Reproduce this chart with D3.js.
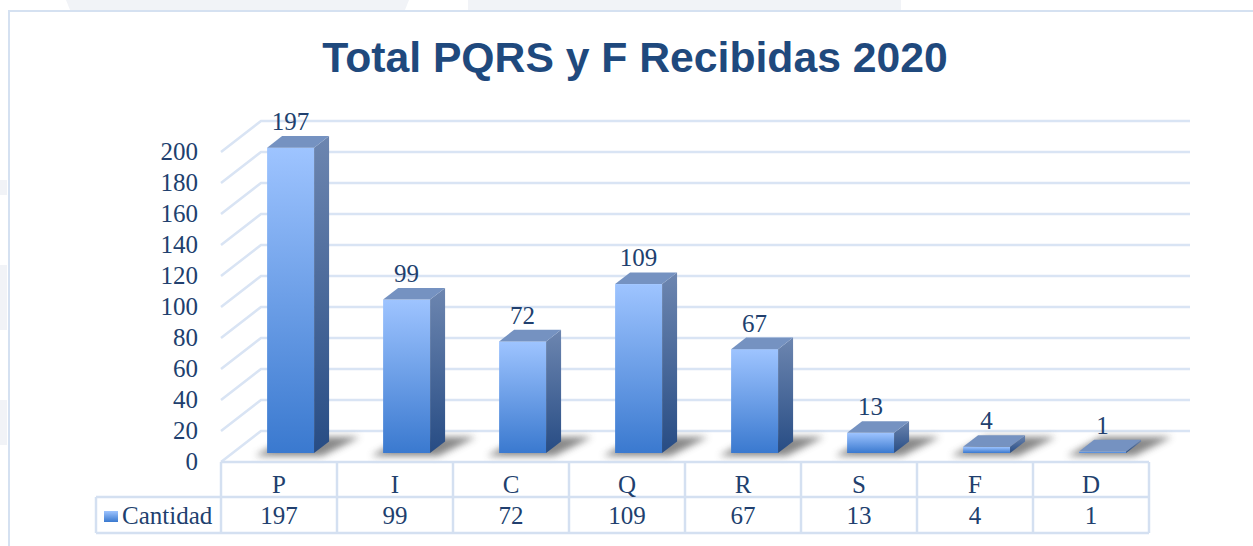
<!DOCTYPE html>
<html><head><meta charset="utf-8">
<script src="https://cdnjs.cloudflare.com/ajax/libs/d3/7.8.5/d3.min.js"></script>
<style>html,body{margin:0;padding:0;background:#fff;}svg{display:block;}</style>
</head><body>
<script>
const categories = ["P","I","C","Q","R","S","F","D"];
const values = [197, 99, 72, 109, 67, 13, 4, 1];
const yTicks = [0,20,40,60,80,100,120,140,160,180,200];
const seriesName = "Cantidad";
const title = "Total PQRS y F Recibidas 2020";

const W = 1253, H = 546;
const svg = d3.select("body").append("svg").attr("width", W).attr("height", H);
const defs = svg.append("defs");

function grad(id, c0, c1){
  const g = defs.append("linearGradient").attr("id", id).attr("x1",0).attr("y1",0).attr("x2",0).attr("y2",1);
  g.append("stop").attr("offset","0%").attr("stop-color",c0);
  g.append("stop").attr("offset","100%").attr("stop-color",c1);
}
grad("gFront", "#9ec4ff", "#3a79cf");
grad("gSide", "#6d86b0", "#274c84");
grad("gKey", "#9ec4ff", "#3a79cf");
defs.append("filter").attr("id","blur").attr("x","-50%").attr("y","-50%").attr("width","200%").attr("height","200%")
  .append("feGaussianBlur").attr("stdDeviation", 3.5);

// page background decorations
const bg = "#f1f3f7";
svg.append("polygon").attr("points","66,0 409,0 405,10 70,10").attr("fill",bg);
svg.append("rect").attr("x",468).attr("y",0).attr("width",433).attr("height",10).attr("fill",bg);
[[265,45],[400,45],[180,15],[310,20]].forEach(([y,h])=>svg.append("rect").attr("x",0).attr("y",y).attr("width",7).attr("height",h).attr("fill",bg));

// chart frame
svg.append("rect").attr("x",9).attr("y",11).attr("width",W).attr("height",H)
  .attr("fill","#fff").attr("stroke","#d5e1f1").attr("stroke-width",2);

// title
svg.append("text").attr("x",635).attr("y",72).attr("text-anchor","middle")
  .attr("font-family","'Liberation Sans', Arial, sans-serif").attr("font-weight","bold")
  .attr("font-size",42.7).attr("fill","#1f497d").text(title);

// geometry
const x0 = 221, x1 = 1149;
const depthDx = 40, depthDy = -31;
const x = d3.scaleBand().domain(categories).range([x0, x1]).padding(0);
const yFront = d3.scaleLinear().domain([0,200]).range([462,152]);
const gridColor = "#d9e4f4";
const serif = "'Liberation Serif', 'Times New Roman', serif";
const textColor = "#213f6e";

// gridlines (side wall diagonals + back wall)
const grid = svg.append("g").attr("fill","none").attr("stroke",gridColor).attr("stroke-width",2.5);
yTicks.forEach(t=>{
  const yf = yFront(t), yb = yf + depthDy;
  grid.append("path").attr("d", `M${x0},${yf} L${x0+depthDx},${yb} L${x1+depthDx+1},${yb}`);
});

// y-axis labels
svg.append("g").selectAll("text").data(yTicks).join("text")
  .attr("x",198).attr("y",d=>yFront(d)+8).attr("text-anchor","end")
  .attr("font-family",serif).attr("font-size",25).attr("fill",textColor).text(d=>d);

// bars
const bw = x.bandwidth()*0.405;
const dFront = 0.29, dDepth = 0.375;
const fdx = depthDx*dFront, fdy = depthDy*dFront;
const sdx = depthDx*dDepth, sdy = depthDy*dDepth;
const data = categories.map((c,i)=>({c, v: values[i]}));
const bars = svg.append("g").selectAll("g").data(data).join("g");
bars.each(function(d){
  const g = d3.select(this);
  const bx = x(d.c) + x.bandwidth()/2 - bw/2 + fdx;
  const base = yFront(0) + fdy;
  const top = yFront(d.v) + fdy;
  // shadow
  g.append("polygon")
    .attr("points", `${bx-12},${base+3} ${bx+bw+8},${base+3} ${bx+bw+46},${base-16} ${bx+22},${base-16}`)
    .attr("fill","#737373").attr("opacity",0.85).attr("filter","url(#blur)");
  // front
  g.append("rect").attr("x",bx).attr("y",top).attr("width",bw).attr("height",Math.max(base-top,0.5))
    .attr("fill","url(#gFront)");
  // side
  g.append("polygon")
    .attr("points", `${bx+bw},${top} ${bx+bw+sdx},${top+sdy} ${bx+bw+sdx},${base+sdy} ${bx+bw},${base}`)
    .attr("fill","url(#gSide)");
  // top
  g.append("polygon")
    .attr("points", `${bx},${top} ${bx+bw},${top} ${bx+bw+sdx},${top+sdy} ${bx+sdx},${top+sdy}`)
    .attr("fill","#7592c1");
  // label
  g.append("text").attr("x",bx+bw/2).attr("y",top+sdy-6).attr("text-anchor","middle")
    .attr("font-family",serif).attr("font-size",25).attr("fill",textColor).text(d.v);
});

// data table
const tbl = svg.append("g");
const rowTop = 462, rowMid = 497, rowBot = 533, legX = 96;
const ts = {stroke:"#d4e0f1", "stroke-width":2.5};
function line(xa,ya,xb,yb){ const l = tbl.append("line").attr("x1",xa).attr("y1",ya).attr("x2",xb).attr("y2",yb); Object.entries(ts).forEach(([k,v])=>l.attr(k,v)); }
line(x0, rowTop, x1, rowTop);
line(legX, rowMid, x1, rowMid);
line(legX, rowBot, x1, rowBot);
line(legX, rowMid, legX, rowBot);
categories.forEach(c=>line(x(c), rowTop, x(c), rowBot));
line(x1, rowTop, x1, rowBot);

tbl.selectAll("text.cat").data(categories).join("text").attr("class","cat")
  .attr("x",c=>x(c)+x.bandwidth()/2).attr("y",493).attr("text-anchor","middle")
  .attr("font-family",serif).attr("font-size",25).attr("fill",textColor).text(c=>c);
tbl.selectAll("text.val").data(data).join("text").attr("class","val")
  .attr("x",d=>x(d.c)+x.bandwidth()/2).attr("y",524).attr("text-anchor","middle")
  .attr("font-family",serif).attr("font-size",25).attr("fill",textColor).text(d=>d.v);

tbl.append("rect").attr("x",104).attr("y",511).attr("width",14).attr("height",11).attr("fill","url(#gKey)");
tbl.append("text").attr("x",122).attr("y",524)
  .attr("font-family",serif).attr("font-size",25).attr("fill",textColor).text(seriesName);
</script>
</body></html>
